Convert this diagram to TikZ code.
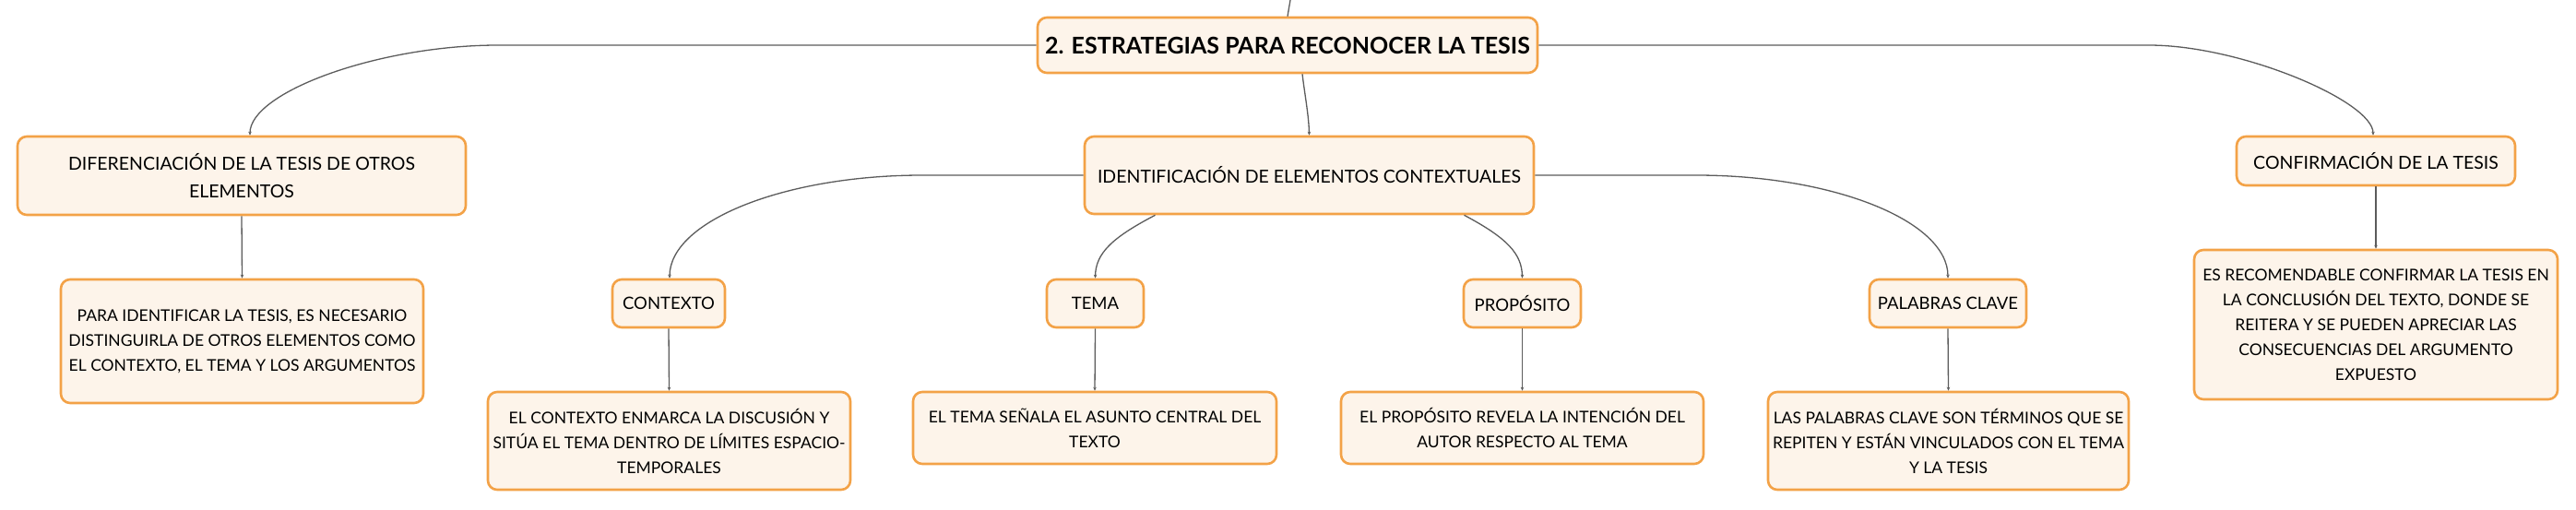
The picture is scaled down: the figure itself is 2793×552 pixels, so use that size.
\documentclass[tikz,border=0pt]{standalone}
\usepackage{fontspec}
\setmainfont{Lato}
\usetikzlibrary{arrows.meta,calc}
\definecolor{boxfill}{HTML}{FDF4EA}
\definecolor{boxline}{HTML}{F3A247}
\definecolor{linkc}{HTML}{5C5C5C}
\tikzset{
  mbox/.style={draw=boxline, fill=boxfill, line width=2.6pt, rounded corners=10pt,
    align=center, inner sep=0pt, text=black},
  titlefont/.style={font=\fontsize{25}{30}\selectfont\bfseries},
  lvlone/.style={font=\fontsize{19.5}{30}\selectfont},
  lvltwo/.style={font=\fontsize{18.5}{27}\selectfont},
  leaf/.style={font=\fontsize{17.5}{27}\selectfont},
  link/.style={draw=linkc, line width=1.3pt, -{Stealth[length=4pt,width=3.5pt]}},
  plainlink/.style={draw=linkc, line width=1.3pt},
}
\begin{document}
\begin{tikzpicture}[x=1pt,y=-1pt]
\useasboundingbox[fill=white] (0,0) rectangle (2793,552);
\coordinate (top) at (1399,0);
% nodes
\node[mbox, titlefont, minimum width=542pt, minimum height=60pt] (title) at (1396,49)
  {2. ESTRATEGIAS PARA RECONOCER LA TESIS};
\node[mbox, lvlone, minimum width=486pt, minimum height=85pt] (dif) at (262,190.5)
  {DIFERENCIACIÓN DE LA TESIS DE OTROS\\ELEMENTOS};
\node[mbox, lvlone, minimum width=487pt, minimum height=84pt] (ident) at (1419.5,190)
  {IDENTIFICACIÓN DE ELEMENTOS CONTEXTUALES};
\node[mbox, lvlone, minimum width=302pt, minimum height=53pt] (conf) at (2576,174.5)
  {CONFIRMACIÓN DE LA TESIS};
\node[mbox, leaf, minimum width=393pt, minimum height=134pt] (difc) at (262.5,370)
  {PARA IDENTIFICAR LA TESIS, ES NECESARIO\\DISTINGUIRLA DE OTROS ELEMENTOS COMO\\EL CONTEXTO, EL TEMA Y LOS ARGUMENTOS};
\node[mbox, leaf, minimum width=394pt, minimum height=162pt] (confc) at (2576,352)
  {ES RECOMENDABLE CONFIRMAR LA TESIS EN\\LA CONCLUSIÓN DEL TEXTO, DONDE SE\\REITERA Y SE PUEDEN APRECIAR LAS\\CONSECUENCIAS DEL ARGUMENTO\\EXPUESTO};
\node[mbox, lvltwo, minimum width=122pt, minimum height=52pt] (ctx) at (725,329) {CONTEXTO};
\node[mbox, lvltwo, minimum width=105pt, minimum height=52pt] (tema) at (1187.5,329) {TEMA};
\node[mbox, lvltwo, minimum width=127pt, minimum height=52pt] (prop) at (1650.5,329) {PROPÓSITO};
\node[mbox, lvltwo, minimum width=170pt, minimum height=52pt] (pal) at (2112,329) {PALABRAS CLAVE};
\node[mbox, leaf, minimum width=393pt, minimum height=106pt] (ctxc) at (725.5,478)
  {EL CONTEXTO ENMARCA LA DISCUSIÓN Y\\SITÚA EL TEMA DENTRO DE LÍMITES ESPACIO-\\TEMPORALES};
\node[mbox, leaf, minimum width=394pt, minimum height=78pt] (temac) at (1187,464)
  {EL TEMA SEÑALA EL ASUNTO CENTRAL DEL\\TEXTO};
\node[mbox, leaf, minimum width=393pt, minimum height=78pt] (propc) at (1650.5,464)
  {EL PROPÓSITO REVELA LA INTENCIÓN DEL\\AUTOR RESPECTO AL TEMA};
\node[mbox, leaf, minimum width=391pt, minimum height=106pt] (palc) at (2112.5,478)
  {LAS PALABRAS CLAVE SON TÉRMINOS QUE SE\\REPITEN Y ESTÁN VINCULADOS CON EL TEMA\\Y LA TESIS};
% connectors
\draw[plainlink] (top) -- (title.north);
\draw[link] ($(title.south)+(16,0)$) .. controls (1415,105) and (1419,125) .. (ident.north);
\draw[link] (title.west) -- (540,49) .. controls (410,49) and (271,100) .. ($(dif.north)+(9,0)$);
\draw[link] (title.east) -- (2330,49) .. controls (2430,49) and (2573,110) .. ($(conf.north)+(-3,0)$);
\draw[link] (ident.west) -- (1000,190) .. controls (850,190) and (726,240) .. ($(ctx.north)+(1,0)$);
\draw[link] (ident.east) -- (1839,190) .. controls (1989,190) and (2112,240) .. (pal.north);
\draw[link] ($(ident.south)+(-167,0)$) .. controls (1205,258) and (1188,275) .. (tema.north);
\draw[link] ($(ident.south)+(168,0)$) .. controls (1634,258) and (1650,275) .. (prop.north);
\draw[link] (dif.south) -- (difc.north);
\draw[link] (conf.south) -- (confc.north);
\draw[link] (ctx.south) -- (ctxc.north);
\draw[link] (tema.south) -- (temac.north);
\draw[link] (prop.south) -- (propc.north);
\draw[link] (pal.south) -- (palc.north);
\end{tikzpicture}
\end{document}
